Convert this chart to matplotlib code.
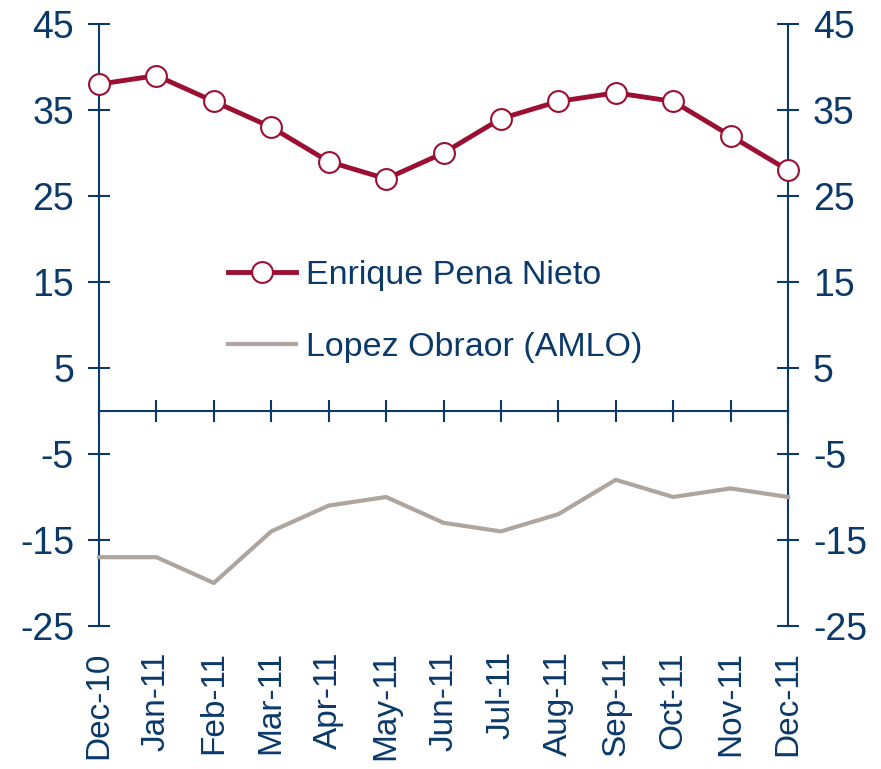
# Mexico 2012 pre-election polls: Pena Nieto vs Lopez Obrador
import matplotlib.pyplot as plt

plt.rcParams['font.family'] = ['Liberation Sans', 'DejaVu Sans']
plt.rcParams['axes.unicode_minus'] = False

# ---------------------------------
# Data
# ---------------------------------
months = ['Dec-10', 'Jan-11', 'Feb-11', 'Mar-11', 'Apr-11', 'May-11', 'Jun-11',
          'Jul-11', 'Aug-11', 'Sep-11', 'Oct-11', 'Nov-11', 'Dec-11']
pena_nieto = [38, 39, 36, 33, 29, 27, 30, 34, 36, 37, 36, 32, 28]
amlo = [-17, -17, -20, -14, -11, -10, -13, -14, -12, -8, -10, -9, -10]
yticks = [45, 35, 25, 15, 5, -5, -15, -25]

navy = '#0B3A6A'
red = '#9B1032'
grey = '#ADA59E'

fig = plt.figure(figsize=(8.81, 7.69), dpi=100)
ax = fig.add_axes([99 / 881, 1 - 626 / 769, 689 / 881, 602 / 769])

x = list(range(len(months)))
ax.plot(x, amlo, color=grey, lw=3, label='Lopez Obraor (AMLO)', clip_on=False, zorder=3)
ax.plot(x, pena_nieto, color=red, lw=3.5, marker='o', ms=15, mfc='white',
        mec=red, mew=1.5, label='Enrique Pena Nieto', clip_on=False, zorder=4)

ax.set_xlim(0, len(months) - 1)
ax.set_ylim(-25, 45)
ax.set_yticks(yticks)
ax.set_xticks(x)
ax.set_xticklabels(months)

ax.spines['top'].set_visible(False)
for s in ['left', 'right', 'bottom']:
    ax.spines[s].set_color(navy)
    ax.spines[s].set_linewidth(1.5)
ax.spines['bottom'].set_position(('data', 0))

ax.tick_params(axis='y', which='both', direction='inout', length=16, width=1.5,
               color=navy, labelcolor=navy, labelsize=27, left=True, right=True,
               labelleft=True, labelright=True, pad=10)
ax.tick_params(axis='x', direction='inout', length=16, width=1.5, color=navy,
               labelcolor=navy, labelsize=24, pad=165, labelrotation=90)

# reorder legend: Pena Nieto first
h, l = ax.get_legend_handles_labels()
ax.legend(h[::-1], l[::-1], loc='center left', bbox_to_anchor=(0.187, 0.523),
          frameon=False, fontsize=24.5, handlelength=2.0, handletextpad=0.3,
          labelspacing=1.2, borderpad=0, borderaxespad=0, labelcolor=navy)

fig.savefig('out.png', dpi=100)
